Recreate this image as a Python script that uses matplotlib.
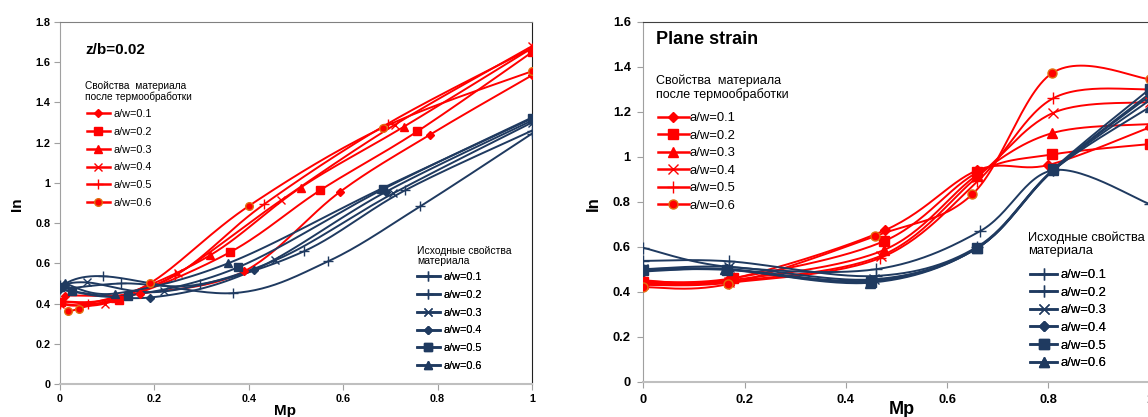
import numpy as np
import matplotlib
matplotlib.use('Agg')
import matplotlib.pyplot as plt

plt.rcParams['font.family'] = ['Liberation Sans', 'DejaVu Sans']

W, H = 1148, 417

RED = '#FF0000'
BLUE = '#1F3A60'
labels = ['a/w=0.1', 'a/w=0.2', 'a/w=0.3', 'a/w=0.4', 'a/w=0.5', 'a/w=0.6']
markers = ['D', 's', '^', 'x', '+', 'o']
blue_markers = ['+', '+', 'x', 'D', 's', '^']

# ── left panel (z/b=0.02) ──
left_red_x = [
    [0.01, 0.17, 0.39, 0.593, 0.784, 1.0],
    [0.003, 0.125, 0.36, 0.551, 0.757, 1.0],
    [0.0, 0.117, 0.318, 0.51, 0.729, 1.0],
    [0.0, 0.095, 0.25, 0.468, 0.71, 1.0],
    [0.0, 0.06, 0.244, 0.432, 0.695, 1.0],
    [0.017, 0.04, 0.19, 0.40, 0.684, 1.0],
]
left_red_y = [
    [0.44, 0.45, 0.56, 0.955, 1.24, 1.535],
    [0.41, 0.42, 0.655, 0.963, 1.256, 1.65],
    [0.41, 0.43, 0.64, 0.977, 1.28, 1.67],
    [0.40, 0.40, 0.55, 0.913, 1.29, 1.68],
    [0.40, 0.40, 0.54, 0.893, 1.295, 1.67],
    [0.365, 0.375, 0.50, 0.885, 1.275, 1.555],
]
left_blue_x = [
    [0.0, 0.092, 0.367, 0.568, 0.763, 1.0],
    [0.0, 0.13, 0.297, 0.517, 0.731, 1.0],
    [0.0, 0.058, 0.22, 0.456, 0.706, 1.0],
    [0.0, 0.19, 0.41, 0.69, 1.0],
    [0.0, 0.025, 0.145, 0.377, 0.684, 1.0],
    [0.01, 0.117, 0.356, 0.68, 1.0],
]
left_blue_y = [
    [0.49, 0.536, 0.452, 0.61, 0.883, 1.245],
    [0.47, 0.50, 0.496, 0.66, 0.963, 1.26],
    [0.49, 0.505, 0.46, 0.615, 0.948, 1.30],
    [0.47, 0.43, 0.566, 0.955, 1.31],
    [0.48, 0.46, 0.44, 0.58, 0.968, 1.325],
    [0.50, 0.45, 0.60, 0.97, 1.32],
]

# ── right panel (Plane strain) ──
right_red_x = [
    [0.0, 0.17, 0.478, 0.66, 0.80, 1.0],
    [0.0, 0.177, 0.476, 0.66, 0.808, 1.0],
    [0.0, 0.17, 0.475, 0.66, 0.808, 1.0],
    [0.0, 0.17, 0.47, 0.66, 0.81, 1.0],
    [0.0, 0.17, 0.468, 0.66, 0.81, 1.0],
    [0.0, 0.168, 0.458, 0.65, 0.808, 1.0],
]
right_red_y = [
    [0.45, 0.455, 0.674, 0.94, 0.963, 1.13],
    [0.445, 0.46, 0.625, 0.93, 1.01, 1.056],
    [0.44, 0.45, 0.585, 0.92, 1.105, 1.145],
    [0.435, 0.445, 0.56, 0.91, 1.195, 1.243],
    [0.43, 0.44, 0.55, 0.89, 1.26, 1.30],
    [0.42, 0.434, 0.647, 0.833, 1.372, 1.345],
]
right_blue_x = [
    [0.0, 0.17, 0.46, 0.666, 0.81, 1.0],
    [0.0, 0.17, 0.46, 0.66, 0.81, 1.0],
    [0.0, 0.17, 0.455, 0.66, 0.81, 1.0],
    [0.0, 0.165, 0.45, 0.66, 0.81, 1.0],
    [0.0, 0.165, 0.45, 0.66, 0.81, 1.0],
    [0.0, 0.162, 0.448, 0.66, 0.81, 1.0],
]
right_blue_y = [
    [0.595, 0.51, 0.50, 0.67, 0.94, 0.79],
    [0.537, 0.535, 0.47, 0.60, 0.94, 1.25],
    [0.50, 0.51, 0.455, 0.595, 0.94, 1.27],
    [0.49, 0.50, 0.45, 0.595, 0.94, 1.28],
    [0.495, 0.497, 0.445, 0.595, 0.945, 1.30],
    [0.50, 0.50, 0.44, 0.594, 0.94, 1.22],
]

title_red = 'Свойства  материала\nпосле термообработки'
title_blue = 'Исходные свойства\nматериала'


def smooth(x, y, n=30):
    """Excel-style smoothed line: cubic Bezier with Catmull-Rom control points"""
    p = np.column_stack([x, y]).astype(float)
    pts = [p[0]]
    for i in range(len(p) - 1):
        p0 = p[i - 1] if i > 0 else p[i]
        p3 = p[i + 2] if i + 2 < len(p) else p[i + 1]
        c1 = p[i] + (p[i + 1] - p0) / 6
        c2 = p[i + 1] - (p3 - p[i]) / 6
        t = np.linspace(0, 1, n)[1:, None]
        seg = ((1 - t) ** 3 * p[i] + 3 * (1 - t) ** 2 * t * c1
               + 3 * (1 - t) * t ** 2 * c2 + t ** 3 * p[i + 1])
        pts.extend(seg)
    pts = np.array(pts)
    return pts[:, 0], pts[:, 1]


def mstyle(m, color, big):
    if big:
        size = {'D': 5, 's': 7, '^': 6.5, 'x': 7.5, '+': 9, 'o': 6.5}[m]
    else:
        size = {'D': 4, 's': 6, '^': 5.5, 'x': 6, '+': 7.5, 'o': 5.5}[m]
    d = dict(marker=m, markersize=size, markerfacecolor=color,
             markeredgecolor=color, markeredgewidth=1.0)
    if m == 'o' and color == RED:
        d['markeredgecolor'] = '#E07010'
    return d


def draw_series(ax, xs, ys, color, mks, big):
    handles = []
    for x, y, m, lab in zip(xs, ys, mks, labels):
        sx, sy = smooth(x, y)
        ax.plot(sx, sy, color=color, lw=1.4, zorder=2)
        ax.plot(x, y, ls='none', color=color, zorder=3, **mstyle(m, color, big))
        h, = ax.plot([], [], color=color, lw=1.8, label=lab, **mstyle(m, color, big))
        handles.append(h)
    return handles


def px_axes(l, t, r, b):
    return fig.add_axes([l / W, 1 - b / H, (r - l) / W, (b - t) / H])


fig = plt.figure(figsize=(W / 100, H / 100), dpi=100)

# ── left panel ──
ax1 = px_axes(60, 22, 532, 384)
ax1.set_xlim(0, 1)
ax1.set_ylim(0, 1.8)
ax1.set_xticks(np.arange(0, 1.01, 0.2))
ax1.set_xticklabels(['0', '0.2', '0.4', '0.6', '0.8', '1'])
ax1.set_yticks(np.arange(0, 1.81, 0.2))
ax1.set_yticklabels(['0', '0.2', '0.4', '0.6', '0.8', '1', '1.2', '1.4', '1.6', '1.8'])
hr1 = draw_series(ax1, left_red_x, left_red_y, RED, markers, False)
hb1 = draw_series(ax1, left_blue_x, left_blue_y, BLUE, blue_markers, False)
ax1.tick_params(labelsize=7.8, length=4, color='#A0A0A0', pad=3)
for lab in ax1.get_xticklabels() + ax1.get_yticklabels():
    lab.set_fontweight('bold')

# ── right panel (cut off at the right edge) ──
ax2 = px_axes(643.3, 21.7, 1149.5, 381.7)
ax2.set_xlim(0, 1)
ax2.set_ylim(0, 1.6)
ax2.set_xticks(np.arange(0, 1.01, 0.2))
ax2.set_xticklabels(['0', '0.2', '0.4', '0.6', '0.8', '1'])
ax2.set_yticks(np.arange(0, 1.61, 0.2))
ax2.set_yticklabels(['0', '0.2', '0.4', '0.6', '0.8', '1', '1.2', '1.4', '1.6'])
hr2 = draw_series(ax2, right_red_x, right_red_y, RED, markers, True)
hb2 = draw_series(ax2, right_blue_x, right_blue_y, BLUE, blue_markers, True)
ax2.tick_params(labelsize=9.3, length=4, color='#A0A0A0', pad=5)
for lab in ax2.get_xticklabels() + ax2.get_yticklabels():
    lab.set_fontweight('bold')

for ax in (ax1, ax2):
    ax.spines['left'].set_color('#A0A0A0')
    ax.spines['bottom'].set_color('#BFBFBF')
    ax.spines['bottom'].set_linewidth(1.5)
    ax.spines['top'].set_color('#404040')
    ax.spines['right'].set_color('#202020')
ax1.spines['top'].set_color('#808080')


def legend(ax, handles, title, tx, ty, tfs, x, y, fs, spacing, hl, pad):
    # title as its own text block, entries as a title-less legend
    fig.text(tx / W, 1 - ty / H, title, fontsize=tfs, ha='left', va='center',
             linespacing=1.1)
    leg = ax.legend(handles=handles, loc='upper left',
                    bbox_to_anchor=(x / W, 1 - y / H), bbox_transform=fig.transFigure,
                    frameon=False, borderpad=0, borderaxespad=0, numpoints=1,
                    handlelength=hl, handletextpad=pad, labelspacing=spacing,
                    fontsize=fs)
    ax.add_artist(leg)
    return leg


legend(ax1, hr1, title_red, 85, 91.5, 7.3, 87, 109, 7.8, 0.72, 2.1, 0.3)
legend(ax1, hb1, title_blue, 417, 256, 7.5, 417, 272, 7.8, 0.72, 2.1, 0.3)
legend(ax2, hr2, title_red, 656, 87.5, 9.0, 658, 112, 9.4, 0.41, 2.35, 0.1)
legend(ax2, hb2, title_blue, 1028, 244, 9.3, 1030, 269, 9.4, 0.42, 2.1, 0.2)

ax1.text(85 / W, 1 - 50 / H, 'z/b=0.02', transform=fig.transFigure, fontsize=11,
         fontweight='bold', va='center', ha='left')
ax2.text(656 / W, 1 - 40 / H, 'Plane strain', transform=fig.transFigure, fontsize=13,
         fontweight='bold', va='center', ha='left')

fig.text(17 / W, 1 - 204 / H, 'In', rotation=90, fontsize=11, fontweight='bold',
         ha='center', va='center')
fig.text(285 / W, 1 - 411 / H, 'Mp', fontsize=11, fontweight='bold', ha='center', va='center')
fig.text(593 / W, 1 - 204 / H, 'In', rotation=90, fontsize=12, fontweight='bold',
         ha='center', va='center')
fig.text(902 / W, 1 - 410 / H, 'Mp', fontsize=13, fontweight='bold', ha='center', va='center')

fig.savefig('out.png', dpi=100)
